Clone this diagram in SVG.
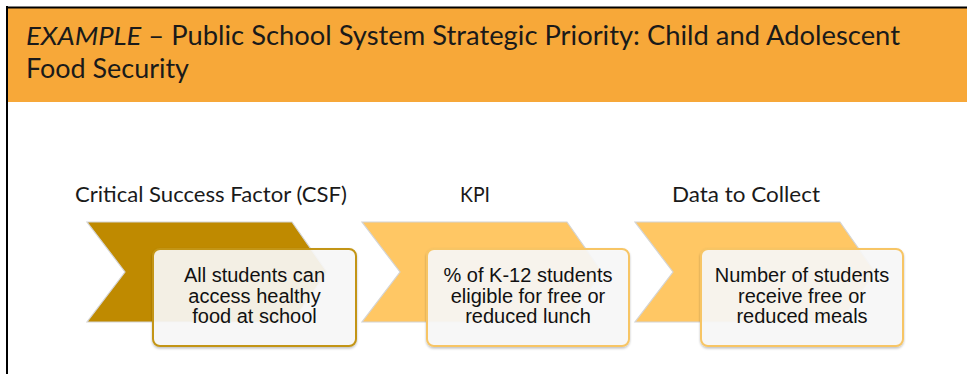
<svg xmlns="http://www.w3.org/2000/svg" width="967" height="374" viewBox="0 0 967 374">
  <style>
    .title { font-family: Lato, "Open Sans", sans-serif; font-size: 26px; fill: #1a1a1a; }
    .head { font-family: Lato, "Open Sans", sans-serif; font-size: 22px; fill: #1a1a1a; }
    .body { font-family: "Liberation Sans", Arial, sans-serif; font-size: 20px; fill: #111; text-anchor: middle; }
    .chev { stroke: #d4d4d4; stroke-width: 1.2; }
    .box { fill: #fafafa; fill-opacity: 0.9; stroke-width: 2; }
  </style>
  <defs>
    <filter id="shadow" x="-5%" y="-5%" width="110%" height="115%">
      <feDropShadow dx="0" dy="1.5" stdDeviation="1" flood-color="#000" flood-opacity="0.25"/>
    </filter>
    <!-- chevron outline, origin at its top-left corner -->
    <path id="chevShape" d="M0,0 H205 L240,50 L205,100 H0 L38,50 Z"/>
  </defs>

  <rect width="967" height="374" fill="#ffffff"/>

  <!-- header band -->
  <rect x="8" y="8" width="959" height="94" fill="#f7a839"/>
  <line x1="6" y1="7.5" x2="967" y2="7.5" stroke="#000" stroke-width="2"/>
  <line x1="7" y1="6" x2="7" y2="374" stroke="#000" stroke-width="2"/>
  <text class="title" x="26" y="45" textLength="874" lengthAdjust="spacingAndGlyphs"><tspan font-style="italic">EXAMPLE</tspan> – Public School System Strategic Priority: Child and Adolescent</text>
  <text class="title" x="26" y="78" textLength="163" lengthAdjust="spacingAndGlyphs">Food Security</text>

  <!-- column headings -->
  <text class="head" x="75" y="202" textLength="272" lengthAdjust="spacingAndGlyphs">Critical Success Factor (CSF)</text>
  <text class="head" x="460" y="202" textLength="30" lengthAdjust="spacingAndGlyphs">KPI</text>
  <text class="head" x="672" y="202" textLength="148" lengthAdjust="spacingAndGlyphs">Data to Collect</text>

  <g id="csf">
    <use href="#chevShape" x="87" y="222" class="chev" fill="#bf8a00"/>
    <rect class="box" x="153" y="249" width="203" height="97" rx="7" stroke="#c39514" filter="url(#shadow)"/>
    <text class="body" x="254.5" y="282">All students can</text>
    <text class="body" x="254.5" y="302.5">access healthy</text>
    <text class="body" x="254.5" y="323">food at school</text>
  </g>

  <g id="kpi">
    <use href="#chevShape" x="362" y="222" class="chev" fill="#ffc764"/>
    <rect class="box" x="427" y="249" width="202" height="97" rx="7" stroke="#f7c565" filter="url(#shadow)"/>
    <text class="body" x="528" y="282">% of K-12 students</text>
    <text class="body" x="528" y="302.5">eligible for free or</text>
    <text class="body" x="528" y="323">reduced lunch</text>
  </g>

  <g id="data">
    <use href="#chevShape" x="635" y="222" class="chev" fill="#ffc764"/>
    <rect class="box" x="701" y="249" width="202" height="97" rx="7" stroke="#f7c565" filter="url(#shadow)"/>
    <text class="body" x="802" y="282">Number of students</text>
    <text class="body" x="802" y="302.5">receive free or</text>
    <text class="body" x="802" y="323">reduced meals</text>
  </g>

  <g id="connectors"></g>
</svg>
